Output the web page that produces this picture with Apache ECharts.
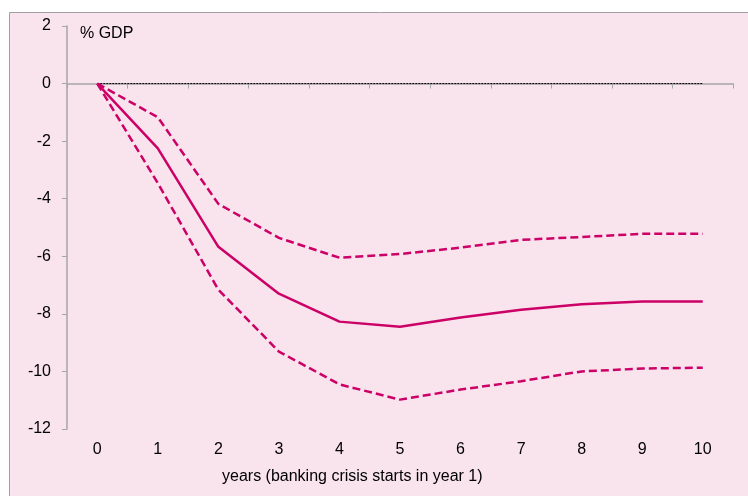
<!DOCTYPE html>
<html>
<head>
<meta charset="utf-8">
<script src="https://cdn.jsdelivr.net/npm/echarts@6/dist/echarts.min.js"></script>
<style>
html,body{margin:0;padding:0;background:#ffffff;}
#chart{width:748px;height:496px;}
</style>
</head>
<body>
<div id="chart"></div>
<script>
var years = ['0','1','2','3','4','5','6','7','8','9','10'];
var central = [0, -2.25, -5.67, -7.3, -8.27, -8.45, -8.13, -7.86, -7.67, -7.57, -7.57];
var upper = [0, -1.17, -4.18, -5.36, -6.05, -5.92, -5.7, -5.43, -5.33, -5.22, -5.22];
var lower = [0, -3.46, -7.16, -9.31, -10.45, -10.98, -10.63, -10.34, -10.0, -9.9, -9.87];
var zeroLine = [0, 0, 0, 0, 0, 0, 0, 0, 0, 0, 0];
var yTicks = [-12, -10, -8, -6, -4, -2, 0, 2];

var lineColor = '#cc0066';
var font = '"Liberation Sans", Arial, sans-serif';
var chart = echarts.init(document.getElementById('chart'), null, {renderer: 'canvas'});
chart.setOption({
  animation: false,
  backgroundColor: '#ffffff',
  graphic: [
    {type: 'rect', z: -10, silent: true,
     shape: {x: 9.5, y: 12.5, width: 800, height: 600},
     style: {fill: '#f9e3ec', stroke: '#a0a0a0', lineWidth: 1}},
    {type: 'text', x: 80, y: 34,
     style: {text: '% GDP', font: '16px ' + font, fill: '#000000', textVerticalAlign: 'middle'}},
    {type: 'text', x: 222, y: 477,
     style: {text: 'years (banking crisis starts in year 1)', font: '16px ' + font, fill: '#000000', textVerticalAlign: 'middle'}}
  ],
  grid: {left: 67, top: 26, right: 15, bottom: 67, containLabel: false},
  xAxis: {
    type: 'category',
    data: years,
    boundaryGap: true,
    axisLine: {lineStyle: {color: '#a6a6a6', width: 1.5}},
    axisTick: {show: true, length: 5, lineStyle: {color: '#a6a6a6'}},
    axisLabel: {fontFamily: font, fontSize: 16, color: '#000', margin: 13},
    splitLine: {show: false}
  },
  yAxis: {
    type: 'value',
    min: yTicks[0],
    max: yTicks[yTicks.length - 1],
    interval: 2,
    axisLine: {show: true, lineStyle: {color: '#a6a6a6', width: 1.5}},
    axisTick: {show: true, length: 5, lineStyle: {color: '#a6a6a6'}},
    axisLabel: {fontFamily: font, fontSize: 16, color: '#000', margin: 16},
    splitLine: {show: false}
  },
  series: [
    {type: 'line', data: zeroLine, symbol: 'none', z: 1,
     lineStyle: {color: '#000000', width: 1, type: [2, 1]}},
    {type: 'line', data: upper, symbol: 'none',
     lineStyle: {color: lineColor, width: 2.5, type: [8, 4]}},
    {type: 'line', data: lower, symbol: 'none',
     lineStyle: {color: lineColor, width: 2.5, type: [8, 4]}},
    {type: 'line', data: central, symbol: 'none',
     lineStyle: {color: lineColor, width: 2.5}}
  ]
});
</script>
</body>
</html>
